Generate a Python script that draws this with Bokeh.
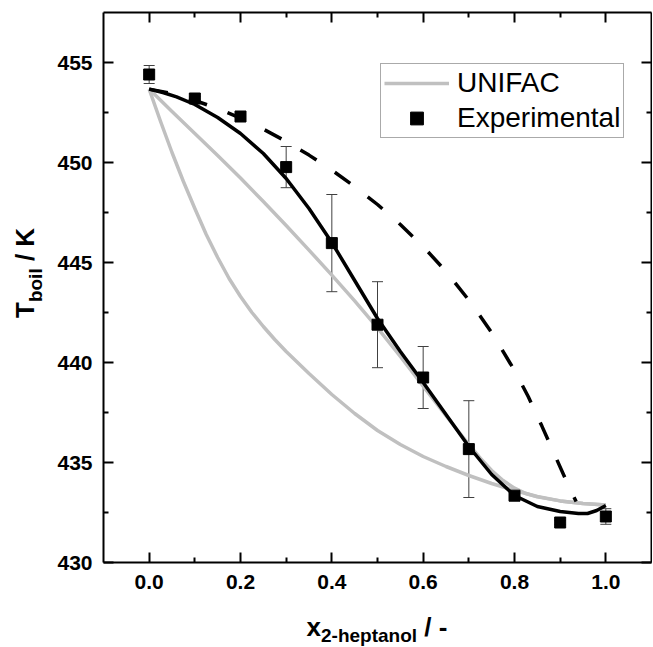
from bokeh.plotting import figure
from bokeh.layouts import row, column
from bokeh.models import (Range1d, LinearAxis, FixedTicker, PrintfTickFormatter,
                          Legend, LegendItem, Whisker, TeeHead, ColumnDataSource, Div)
from bokeh.embed import file_html
from bokeh.resources import INLINE

# ---------------- data ----------------
x_exp = [0.0, 0.1, 0.2, 0.3, 0.4, 0.5, 0.6, 0.7, 0.8, 0.9, 1.0]
T_exp = [454.4, 453.2, 452.3, 449.77, 445.97, 441.89, 439.25, 435.67, 433.34, 432.0, 432.3]
T_err = [0.45, 0.1, 0.1, 1.03, 2.43, 2.15, 1.55, 2.42, 0.2, 0.1, 0.39]

x_model = [0.0, 0.03, 0.06, 0.1, 0.15, 0.2, 0.25, 0.3, 0.35, 0.4, 0.45, 0.5, 0.55,
           0.6, 0.65, 0.7, 0.75, 0.8, 0.85, 0.9, 0.94, 0.96, 0.98, 1.0]
T_model = [453.67, 453.5, 453.28, 452.9, 452.25, 451.45, 450.45, 449.2, 447.7, 446.0,
           444.1, 442.2, 440.55, 439.0, 437.4, 435.8, 434.4, 433.35, 432.8, 432.55,
           432.45, 432.45, 432.6, 432.85]

x_dashed = [0.0, 0.05, 0.1, 0.15, 0.2, 0.25, 0.3, 0.35, 0.4, 0.45, 0.5, 0.55, 0.6,
            0.65, 0.7, 0.75, 0.8, 0.83, 0.86, 0.89, 0.92, 0.935]
T_dashed = [453.67, 453.45, 453.1, 452.7, 452.22, 451.67, 451.05, 450.37, 449.62,
            448.8, 447.9, 446.9, 445.8, 444.55, 443.12, 441.5, 439.6, 438.3, 436.82,
            435.28, 433.75, 433.05]

x_unifac_upper = [0.0, 0.05, 0.1, 0.15, 0.2, 0.25, 0.3, 0.35, 0.4, 0.45, 0.5, 0.55, 0.6,
                  0.65, 0.7, 0.725, 0.75, 0.775, 0.8, 0.825, 0.85, 0.9, 0.95, 1.0]
T_unifac_upper = [453.67, 452.55, 451.45, 450.35, 449.22, 448.05, 446.85, 445.62, 444.37,
                  443.08, 441.73, 440.3, 438.82, 437.34, 435.9, 435.22, 434.6, 434.1,
                  433.72, 433.45, 433.28, 433.08, 432.95, 432.88]

x_unifac_lower = [0.0, 0.025, 0.05, 0.075, 0.1, 0.125, 0.15, 0.175, 0.2, 0.225, 0.25,
                  0.275, 0.3, 0.35, 0.4, 0.45, 0.5, 0.55, 0.6, 0.65, 0.7, 0.75, 0.8,
                  0.85, 0.9, 0.95, 1.0]
T_unifac_lower = [453.67, 452.05, 450.5, 449.05, 447.7, 446.4, 445.25, 444.2, 443.3,
                  442.5, 441.8, 441.15, 440.55, 439.45, 438.4, 437.45, 436.6, 435.9,
                  435.3, 434.8, 434.35, 433.95, 433.6, 433.3, 433.08, 432.95, 432.88]

x_major_ticks = [0.0, 0.2, 0.4, 0.6, 0.8, 1.0]
x_minor_ticks = [0.1, 0.3, 0.5, 0.7, 0.9]
y_major_ticks = [430, 435, 440, 445, 450, 455]
y_minor_ticks = [432.5, 437.5, 442.5, 447.5, 452.5]

x_title_parts = ["x", "2-heptanol", "/ -"]
y_title_parts = ["T", "boil", "/ K"]
legend_labels = ["UNIFAC", "Experimental"]

FONT = "Liberation Sans"
GREY = "#c0c0c0"

p = figure(frame_width=548, frame_height=550,
           x_range=Range1d(-0.1, 1.1), y_range=Range1d(430, 457.5),
           output_backend="svg", toolbar_location=None,
           x_axis_location=None, y_axis_location=None,
           min_border_left=58, min_border_right=1, min_border_top=12, min_border_bottom=42)
p.outline_line_color = None
p.grid.visible = False
p.background_fill_color = "white"
p.border_fill_color = "white"


def base_axis(ax):
    ax.axis_line_width = 2
    ax.axis_line_color = "black"
    ax.major_tick_in = 10
    ax.major_tick_out = 0
    ax.minor_tick_in = 5
    ax.minor_tick_out = 0
    ax.major_tick_line_width = 2
    ax.minor_tick_line_width = 2
    ax.major_tick_line_color = "black"
    ax.minor_tick_line_color = "black"
    ax.major_label_text_font = FONT
    ax.major_label_text_font_style = "bold"
    ax.major_label_text_font_size = "21px"
    ax.major_label_text_color = "black"


def mirror_axes(major, minor, place):
    # long ticks (major positions) and short ticks (minor positions), no labels
    a1 = LinearAxis(ticker=FixedTicker(ticks=[], minor_ticks=major))
    base_axis(a1)
    a1.minor_tick_in = 10
    a1.major_label_standoff = 0
    a2 = LinearAxis(ticker=FixedTicker(ticks=[], minor_ticks=minor))
    base_axis(a2)
    a2.axis_line_color = None
    a2.major_label_standoff = 0
    p.add_layout(a1, place)
    p.add_layout(a2, place)


xb = LinearAxis(ticker=FixedTicker(ticks=x_major_ticks, minor_ticks=x_minor_ticks),
                formatter=PrintfTickFormatter(format="%.1f"))
base_axis(xb)
xb.major_label_standoff = 12
yl = LinearAxis(ticker=FixedTicker(ticks=y_major_ticks, minor_ticks=y_minor_ticks),
                formatter=PrintfTickFormatter(format="%d"))
base_axis(yl)
yl.major_label_standoff = 11
p.add_layout(xb, "below")
p.add_layout(yl, "left")
mirror_axes(x_major_ticks, x_minor_ticks, "above")
mirror_axes(y_major_ticks, y_minor_ticks, "right")

# curves
r_up = p.line(x_unifac_upper, T_unifac_upper, line_color=GREY, line_width=3.5, line_join="round")
p.line(x_unifac_lower, T_unifac_lower, line_color=GREY, line_width=3.5, line_join="round")
p.line(x_dashed, T_dashed, line_color="black", line_width=3.5, line_dash="19 22")
p.line(x_model, T_model, line_color="black", line_width=3.5, line_join="round")

# experimental points with error bars
src = ColumnDataSource(dict(
    x=x_exp, T=T_exp,
    upper=[t + e for t, e in zip(T_exp, T_err)],
    lower=[t - e for t, e in zip(T_exp, T_err)],
))
wh = Whisker(source=src, base="x", upper="upper", lower="lower", dimension="height",
             line_color="#404040", line_width=1,
             upper_head=TeeHead(size=11, line_color="#404040", line_width=1),
             lower_head=TeeHead(size=11, line_color="#404040", line_width=1))
p.add_layout(wh)
r_exp = p.scatter("x", "T", source=src, marker="square", size=11,
                  fill_color="black", line_color="black")

# legend
legend = Legend(items=[LegendItem(label=legend_labels[0], renderers=[r_up]),
                       LegendItem(label=legend_labels[1], renderers=[r_exp])],
                location=(277, 424), orientation="vertical")
legend.label_text_font = FONT
legend.label_text_font_size = "28px"
legend.label_text_color = "black"
legend.label_standoff = 8
legend.glyph_width = 65
legend.glyph_height = 32
legend.label_height = 32
legend.spacing = 3
legend.padding = 3
legend.margin = 0
legend.border_line_color = "#555555"
legend.border_line_width = 1
legend.background_fill_color = "white"
legend.background_fill_alpha = 1
p.add_layout(legend, "center")

# axis titles with subscripts, as real HTML text
FONT_CSS = ("font-family:'Liberation Sans',Arial,sans-serif; font-weight:bold; "
            "font-size:26px; line-height:26px; color:black; white-space:nowrap;")

y_html = ('<div style="width:200px; ' + FONT_CSS +
          ' transform-origin:0 0; transform:translate(11.5px, 318px) rotate(-90deg);">'
          + y_title_parts[0]
          + '<span style="font-size:19px; position:relative; top:8px;">' + y_title_parts[1]
          + '</span> ' + y_title_parts[2] + '</div>')
x_html = ('<div style="margin-left:103px; width:548px; padding-top:10px; text-align:center; '
          + FONT_CSS + '">' + x_title_parts[0]
          + '<span style="font-size:19px; position:relative; top:6px;">' + x_title_parts[1]
          + '</span> ' + x_title_parts[2] + '</div>')

ydiv = Div(text=y_html, width=45, height=604, margin=0, styles={"overflow": "hidden"})
xdiv = Div(text=x_html, width=652, height=42, margin=0, styles={"overflow": "hidden"})

layout = column(row(ydiv, p, spacing=0), xdiv, spacing=0)

open("out.html", "w").write(file_html(layout, INLINE))
